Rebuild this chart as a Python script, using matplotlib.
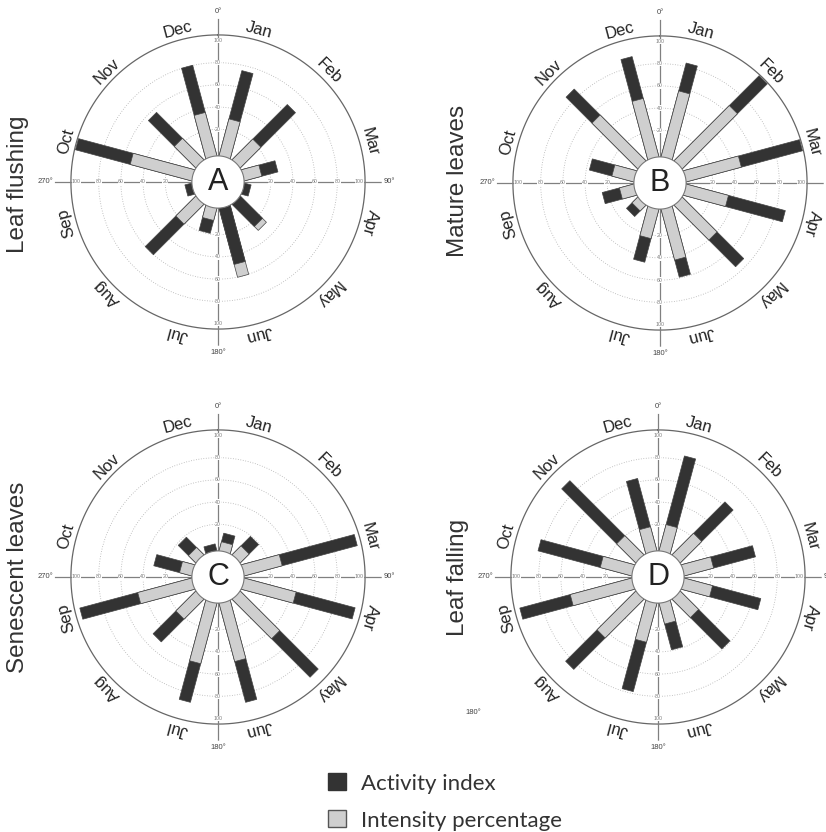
import numpy as np
import matplotlib
matplotlib.use('Agg')
import matplotlib.pyplot as plt
from matplotlib.patches import Patch

plt.rcParams['font.family'] = ['Liberation Sans', 'DejaVu Sans']

# month labels, clockwise from the top
months = ['Jan', 'Feb', 'Mar', 'Apr', 'May', 'Jun', 'Jul', 'Aug', 'Sep', 'Oct', 'Nov', 'Dec']
month_angles = [15, 45, 75, 105, 135, 165, 195, 225, 255, 285, 315, 345]

panel_letters = ['A', 'B', 'C', 'D']
panel_titles = ['Leaf flushing', 'Mature leaves', 'Senescent leaves', 'Leaf falling']

# activity index (dark) and intensity percentage (light) per month
flushing_activity = [75, 66, 27, 2, 24, 48, 19, 60, 2, 104, 56, 80]
flushing_intensity = [30, 22, 12, 0, 29, 60, 7, 21, 0, 53, 23, 36]

mature_activity = [83, 104, 104, 88, 74, 59, 45, 10, 25, 37, 87, 89]
mature_intensity = [57, 66, 47, 35, 40, 43, 23, 3, 9, 16, 54, 50]

senescent_activity = [12, 19, 101, 99, 95, 88, 88, 50, 100, 31, 18, 2]
senescent_intensity = [4, 7, 31, 44, 46, 50, 52, 21, 46, 7, 5, 0]

falling_activity = [84, 63, 62, 67, 59, 39, 78, 85, 100, 83, 90, 63]
falling_intensity = [20, 23, 23, 22, 19, 15, 32, 45, 53, 25, 20, 18]

activity = [flushing_activity, mature_activity, senescent_activity, falling_activity]
intensity = [flushing_intensity, mature_intensity, senescent_intensity, falling_intensity]

radial_ticks = [20, 40, 60, 80, 100]

# panel centres in pixels (826 x 832 figure)
centres = [(218, 182), (660, 183), (218, 577), (658, 577)]
title_pos = [(18, 184), (458, 181), (18, 577), (458, 577)]

RMIN = -27.5
RMAX = 120
HOLE = -4
OUTER = 105
HALF_W = 5.2
R_PX = (RMAX - RMIN) * 1.11

DARK = '#333333'
LIGHT = '#cfcfcf'
W, H = 826, 832


def draw_bar(ax, theta, top, color, z):
    d0 = (HOLE - 3) - RMIN
    d1 = top - RMIN
    d = np.array([d0, d1, d1, d0])
    w = np.array([-HALF_W, -HALF_W, HALF_W, HALF_W])
    th = theta + np.arctan2(w, d)
    r = np.hypot(d, w) + RMIN
    ax.fill(th, r, facecolor=color, edgecolor='#444444', lw=0.5, zorder=z)


fig = plt.figure(figsize=(8.26, 8.32), dpi=100)

circle = np.linspace(0, 2 * np.pi, 361)

for i in range(4):
    cx, cy = centres[i]
    rect = [(cx - R_PX) / W, 1 - (cy + R_PX) / H, 2 * R_PX / W, 2 * R_PX / H]
    ax = fig.add_axes(rect, projection='polar')
    ax.set_theta_zero_location('N')
    ax.set_theta_direction(-1)
    ax.set_ylim(RMIN, RMAX)
    ax.set_xticks([])
    ax.set_yticks([])
    ax.grid(False)
    ax.spines['polar'].set_visible(False)

    # dotted rings and outer circle
    for v in radial_ticks[:-1]:
        ax.plot(circle, np.full_like(circle, v), color='#b0b0b0', ls=(0, (1, 2)), lw=0.6, zorder=1)
    ax.plot(circle, np.full_like(circle, OUTER), color='#666666', lw=0.9, zorder=1)

    # cross lines with small tick numbers and degree labels
    for deg, lab, rr in [(0, '0°', 126), (90, '90°', 127), (180, '180°', 126), (270, '270°', 128)]:
        rad = np.deg2rad(deg)
        ax.plot([rad, rad], [RMIN, 119], color='#808080', lw=0.9, zorder=2)
        for v in radial_ticks:
            ax.text(rad, v, str(v), fontsize=3.8, color='#7a7a7a', ha='center', va='center',
                    bbox=dict(fc='white', ec='none', pad=0.2), zorder=2.5)
        ax.text(rad, rr, lab, fontsize=5.5, color='#444444', ha='center', va='center')

    # bars: longer one underneath, shorter one on top
    for j in range(12):
        th = np.deg2rad(month_angles[j])
        a = activity[i][j]
        g = intensity[i][j]
        if a >= g:
            draw_bar(ax, th, a, DARK, 3)
            if g > 0:
                draw_bar(ax, th, g, LIGHT, 4)
        else:
            draw_bar(ax, th, g, LIGHT, 3)
            draw_bar(ax, th, a, DARK, 4)

    # month names around the circle
    for j in range(12):
        ax.text(np.deg2rad(month_angles[j]), 114, months[j], rotation=-month_angles[j],
                rotation_mode='anchor', ha='center', va='center', fontsize=12, color='#222222')

    # white hole with the panel letter
    ax.fill(circle, np.full_like(circle, HOLE), facecolor='white', edgecolor='#777777', lw=0.8, zorder=6)
    ax.text(0, RMIN, panel_letters[i], fontsize=22, ha='center', va='center', color='#222222', zorder=7)

    tx, ty = title_pos[i]
    fig.text(tx / W, 1 - ty / H, panel_titles[i], rotation=90, fontsize=17.5,
             ha='center', va='center', color='#333333')

# stray label in the lower right panel
fig.text(473 / W, 1 - 712 / H, '180°', fontsize=5.5, color='#444444', ha='center', va='center')

handles = [Patch(facecolor=DARK, edgecolor=DARK), Patch(facecolor=LIGHT, edgecolor='#555555')]
fig.legend(handles, ['Activity index', 'Intensity percentage'], loc='center left',
           bbox_to_anchor=(328 / W, 1 - 802 / H), frameon=False,
           prop={'family': 'Lato', 'size': 16}, handlelength=0.8, handleheight=0.8,
           handletextpad=0.7, labelspacing=0.75, borderpad=0, borderaxespad=0, labelcolor='#333333')

fig.savefig('out.png', dpi=100)
